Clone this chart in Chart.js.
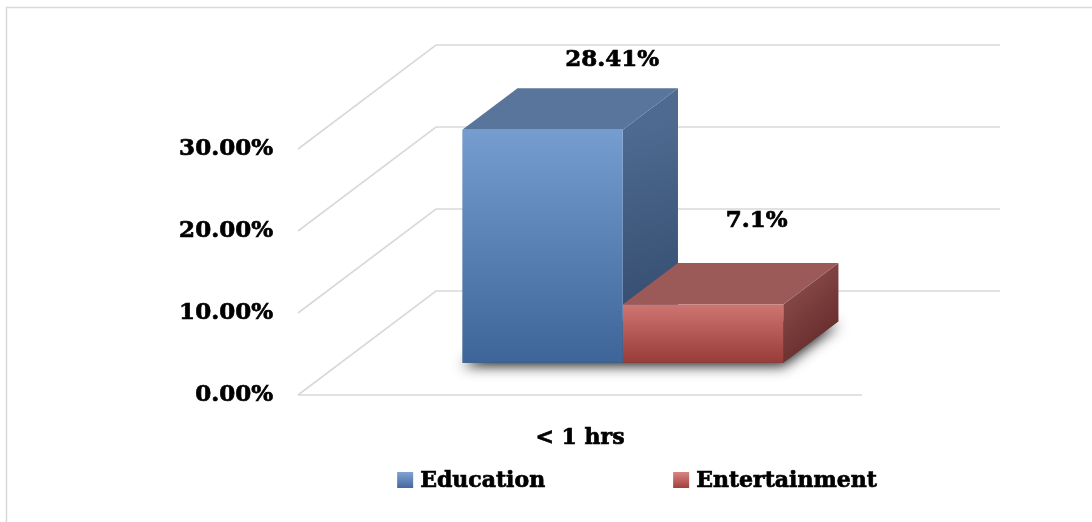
<!DOCTYPE html>
<html>
<head>
<meta charset="utf-8">
<script src="https://cdn.jsdelivr.net/npm/chart.js@4.4.1/dist/chart.umd.min.js"></script>
<style>
  html, body { margin: 0; padding: 0; background: #fff; }
  #wrap { width: 1092px; height: 522px; position: relative; }
</style>
</head>
<body>
<div id="wrap"><canvas id="hoursChart"></canvas></div>
<script>
// values (percent)
const categories = ['< 1 hrs'];
const seriesNames = ['Education', 'Entertainment'];
const educationValues = [28.41];
const entertainmentValues = [7.1];
const yTicks = [0, 10, 20, 30];

// look of the fake 3d
const FONT = '"DejaVu Serif", "Liberation Serif", serif';
const GRID = '#d9d9d9';
const depth = { x: 138, y: -104 };   // floor depth, front -> back wall
const barPlane = 0.31;                // where the bars stand, share of depth
const barDepth = 0.4;                 // how deep each bar is
const looks = [
  { front: ['#769dcf', '#3e6599'], top: '#59759b', side: ['#4f6a90', '#2d4567'], legend: ['#7fa3d3', '#45699f'], labelShift: [42, -28] },
  { front: ['#ce7572', '#983b39'], top: '#9b5a57', side: ['#844745', '#5a2221'], legend: ['#d98582', '#a3403e'], labelShift: [26, -42] }
];

function fmtPct(v) { return v + '%'; }

function frontFill(i) {
  return function (c) {
    const chart = c.chart;
    const area = chart.chartArea;
    if (!area) return looks[i].front[0];
    const y = chart.scales.y;
    const v = c.raw == null ? 0 : c.raw;
    const g = chart.ctx.createLinearGradient(0, y.getPixelForValue(v), 0, y.getPixelForValue(0));
    g.addColorStop(0, looks[i].front[0]);
    g.addColorStop(1, looks[i].front[1]);
    return g;
  };
}

function barBox(el) {
  const p = el.getProps(['x', 'y', 'base', 'width'], true);
  return { l: p.x - p.width / 2, r: p.x + p.width / 2, t: Math.min(p.y, p.base), b: Math.max(p.y, p.base), cx: p.x };
}

function poly(ctx, pts) {
  ctx.beginPath();
  ctx.moveTo(pts[0][0], pts[0][1]);
  for (let k = 1; k < pts.length; k++) ctx.lineTo(pts[k][0], pts[k][1]);
  ctx.closePath();
}

function boldText(ctx, t, x, y) {
  ctx.lineWidth = 0.7;
  ctx.strokeStyle = '#000';
  ctx.strokeText(t, x, y);
  ctx.fillText(t, x, y);
}

const frame = {
  id: 'frame',
  beforeDraw(chart) {
    const ctx = chart.ctx;
    const a = chart.chartArea;
    const ys = chart.scales.y;
    ctx.save();
    ctx.fillStyle = '#fff';
    ctx.fillRect(0, 0, chart.width, chart.height);
    // outer border
    ctx.strokeStyle = GRID;
    ctx.lineWidth = 1.5;
    ctx.strokeRect(6.5, 7.5, chart.width + 20, chart.height + 20);
    // side wall and back wall grid
    ctx.lineWidth = 1.6;
    yTicks.forEach(v => {
      const y = ys.getPixelForValue(v);
      ctx.beginPath();
      ctx.moveTo(a.left, y);
      ctx.lineTo(a.left + depth.x, y + depth.y);
      ctx.lineTo(a.right + depth.x, y + depth.y);
      ctx.stroke();
    });
    // front floor edge
    const y0 = ys.getPixelForValue(0);
    ctx.beginPath();
    ctx.moveTo(a.left, y0);
    ctx.lineTo(a.right, y0);
    ctx.stroke();
    ctx.restore();
  }
};

const bars3d = {
  id: 'bars3d',
  beforeDatasetsDraw(chart) {
    const ctx = chart.ctx;
    const dx = depth.x * barDepth, dy = depth.y * barDepth;
    ctx.save();
    ctx.translate(depth.x * barPlane, depth.y * barPlane);
    const boxes = chart.data.datasets.map((d, i) => barBox(chart.getDatasetMeta(i).data[0]));
    // soft shadow under the footprint (footprint itself stays hidden behind the bars)
    const L = Math.min(...boxes.map(b => b.l)), R = Math.max(...boxes.map(b => b.r));
    const B = boxes[0].b;
    ctx.save();
    ctx.shadowColor = 'rgba(0,0,0,0.9)';
    ctx.shadowBlur = 14;
    ctx.shadowOffsetX = 0;
    ctx.shadowOffsetY = 3;
    ctx.fillStyle = '#444';
    poly(ctx, [[L, B], [R, B], [R + dx, B + dy], [L + dx, B + dy]]);
    ctx.fill();
    ctx.restore();
    boxes.forEach((b, i) => {
      const lk = looks[i];
      // side face
      const sg = ctx.createLinearGradient(b.r, b.t, b.r + dx, b.b);
      sg.addColorStop(0, lk.side[0]);
      sg.addColorStop(1, lk.side[1]);
      ctx.fillStyle = sg;
      poly(ctx, [[b.r, b.t], [b.r + dx, b.t + dy], [b.r + dx, b.b + dy], [b.r, b.b]]);
      ctx.fill();
      // top face
      ctx.fillStyle = lk.top;
      poly(ctx, [[b.l, b.t], [b.r, b.t], [b.r + dx, b.t + dy], [b.l + dx, b.t + dy]]);
      ctx.fill();
    });
  },
  afterDatasetsDraw(chart) {
    const ctx = chart.ctx;
    const dx = depth.x * barDepth, dy = depth.y * barDepth;
    ctx.font = 'bold 23px ' + FONT;
    ctx.fillStyle = '#000';
    ctx.textAlign = 'center';
    ctx.textBaseline = 'middle';
    chart.data.datasets.forEach((d, i) => {
      const b = barBox(chart.getDatasetMeta(i).data[0]);
      const s = looks[i].labelShift;
      boldText(ctx, fmtPct(d.data[0]), b.cx + dx / 2 + s[0], b.t + dy + s[1]);
    });
    ctx.restore();
  }
};

const legend3d = {
  id: 'legend3d',
  afterDraw(chart) {
    const ctx = chart.ctx;
    const a = chart.chartArea;
    ctx.save();
    ctx.font = 'bold 22px ' + FONT;
    ctx.textBaseline = 'middle';
    ctx.textAlign = 'left';
    const box = 16, gap = 7, spacing = 128;
    const items = chart.data.datasets.map(d => d.label);
    const widths = items.map(t => box + gap + ctx.measureText(t).width);
    const total = widths.reduce((s, w) => s + w, 0) + spacing * (items.length - 1);
    let x = (a.left + a.right) / 2 + 57 - total / 2;
    const y = 480;
    items.forEach((t, i) => {
      const g = ctx.createLinearGradient(0, y - box / 2, 0, y + box / 2);
      g.addColorStop(0, looks[i].legend[0]);
      g.addColorStop(1, looks[i].legend[1]);
      ctx.fillStyle = g;
      ctx.fillRect(x, y - box / 2, box, box);
      ctx.fillStyle = '#000';
      boldText(ctx, t, x + box + gap, y + 1);
      x += widths[i] + spacing;
    });
    ctx.restore();
  }
};

new Chart(document.getElementById('hoursChart'), {
  type: 'bar',
  data: {
    labels: categories,
    datasets: [
      { label: seriesNames[0], data: educationValues, backgroundColor: frontFill(0), clip: false },
      { label: seriesNames[1], data: entertainmentValues, backgroundColor: frontFill(1), clip: false }
    ]
  },
  options: {
    responsive: true,
    maintainAspectRatio: false,
    animation: false,
    layout: { padding: { left: 0, right: 230, top: 149, bottom: 0 } },
    datasets: { bar: { categoryPercentage: 0.569, barPercentage: 1, borderWidth: 0 } },
    plugins: { legend: { display: false }, tooltip: { enabled: false } },
    scales: {
      x: {
        grid: { display: false, drawTicks: false },
        border: { display: false },
        ticks: {
          color: '#000', font: { family: FONT, size: 22, weight: 'bold' }, padding: 30,
          textStrokeColor: '#000', textStrokeWidth: 0.7
        },
        afterFit(s) { s.height = 127; }
      },
      y: {
        min: yTicks[0],
        max: yTicks[yTicks.length - 1],
        grid: { display: false, drawTicks: false },
        border: { display: false },
        ticks: {
          stepSize: yTicks[1] - yTicks[0],
          color: '#000',
          font: { family: FONT, size: 23, weight: 'bold' },
          padding: 25,
          textStrokeColor: '#000', textStrokeWidth: 0.7,
          callback: v => v.toFixed(2) + '%'
        },
        afterFit(s) { s.width = 298; }
      }
    }
  },
  plugins: [frame, bars3d, legend3d]
});
</script>
</body>
</html>
